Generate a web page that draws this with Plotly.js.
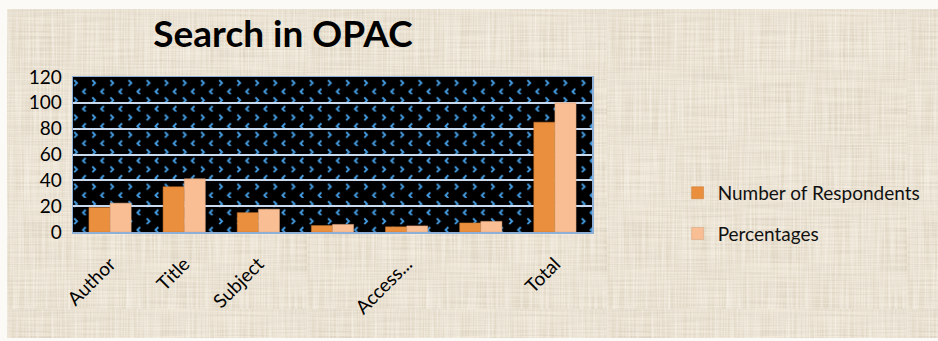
<!DOCTYPE html>
<html>
<head>
<meta charset="utf-8">
<script src="https://cdn.plot.ly/plotly-3.0.1.min.js"></script>
<style>
  html, body { margin: 0; padding: 0; background: #fbfaf6; }
  #frame {
    position: absolute; left: 7px; top: 9px; width: 931px; height: 329px;
    background-color: #ebe2d1;
    background-image: url("data:image/svg+xml;utf8,<svg xmlns='http://www.w3.org/2000/svg' width='300' height='300'><filter id='f'><feTurbulence type='fractalNoise' baseFrequency='0.015 0.6' numOctaves='2' seed='3'/><feColorMatrix values='0 0 0 0 0.55  0 0 0 0 0.48  0 0 0 0 0.38  0 0 0 0.8 -0.25'/></filter><filter id='g'><feTurbulence type='fractalNoise' baseFrequency='0.6 0.015' numOctaves='2' seed='7'/><feColorMatrix values='0 0 0 0 1  0 0 0 0 0.98  0 0 0 0 0.93  0 0 0 0.9 -0.25'/></filter><rect width='300' height='300' filter='url(%23f)'/><rect width='300' height='300' filter='url(%23g)'/></svg>");
  }
  #chart { position: absolute; left: -7px; top: -9px; width: 938px; height: 341px; }
</style>
</head>
<body>
<div id="frame"><div id="chart"></div></div>
<script>
// Search options used in the OPAC
const tickLabels = ["Author", "Title", "Subject", "", "Access...", "", "Total"];
const positions = [0, 1, 2, 3, 4, 5, 6];
const respondents = [19, 35, 15, 5, 4, 7, 85];
const percentages = [22.35, 41.18, 17.65, 5.88, 4.71, 8.24, 100];

// Black plot background with small blue chevrons
const chevrons =
  "<svg xmlns='http://www.w3.org/2000/svg' width='521' height='156' viewBox='0 0 521 156' preserveAspectRatio='none'>" +
  "<defs><pattern id='p' patternUnits='userSpaceOnUse' width='18.2' height='17.4' x='0' y='0'>" +
  "<polyline points='1.2,3.2 4,6 1.2,8.8' fill='none' stroke='%23449ce2' stroke-width='1.9'/>" +
  "<polyline points='12.8,11.9 10,14.7 12.8,17.5' fill='none' stroke='%23449ce2' stroke-width='1.9'/>" +
  "</pattern></defs>" +
  "<rect width='521' height='156' fill='%23000'/>" +
  "<rect width='521' height='156' fill='url(%23p)'/></svg>";

const font = "Lato, 'Open Sans', sans-serif";

const traces = [
  {
    type: "bar", name: "Number of Respondents", legendgroup: "a",
    x: positions, y: respondents,
    marker: { color: "#ea8f3d", line: { color: "#c9772f", width: 0.5 } }
  },
  {
    type: "bar", name: "Percentages", legendgroup: "b",
    x: positions, y: percentages,
    marker: { color: "#f9be94", line: { color: "#d9a07a", width: 0.5 } }
  }
];

const layout = {
  width: 938, height: 341,
  margin: { l: 73, r: 344, t: 77, b: 109, pad: 0 },
  paper_bgcolor: "rgba(0,0,0,0)",
  plot_bgcolor: "rgba(0,0,0,0)",
  barmode: "group",
  bargap: 0.43,
  bargroupgap: 0,
  font: { family: font, color: "#000" },
  title: {
    text: "<b>Search in OPAC</b>",
    font: { family: font, size: 37, color: "#000" },
    x: 283 / 938, xanchor: "center",
    y: 1 - 34 / 341, yanchor: "middle"
  },
  xaxis: {
    range: [-0.5, 6.5],
    tickmode: "array", tickvals: positions, ticktext: tickLabels,
    tickangle: -45, ticks: "",
    tickfont: { family: font, size: 19, color: "#000" },
    ticklabelstandoff: 12,
    showgrid: false, zeroline: false,
    showline: true, mirror: true, linecolor: "#8fb0d6", linewidth: 1.5
  },
  yaxis: {
    range: [0, 120], dtick: 20, ticks: "",
    tickfont: { family: font, size: 19, color: "#000" },
    showgrid: true, gridcolor: "#c9d9ee", gridwidth: 2,
    zeroline: false,
    showline: true, mirror: true, linecolor: "#8fb0d6", linewidth: 1.5,
    ticklabelstandoff: 6
  },
  legend: {
    x: 1.165, xanchor: "left", y: 0.12, yanchor: "middle",
    bgcolor: "rgba(0,0,0,0)",
    font: { family: font, size: 19, color: "#111" },
    traceorder: "grouped", tracegroupgap: 13, itemwidth: 30
  },
  images: [{
    source: "data:image/svg+xml;utf8," + chevrons,
    xref: "x domain", yref: "y domain",
    x: 0, y: 1, sizex: 1, sizey: 1,
    xanchor: "left", yanchor: "top",
    sizing: "stretch", layer: "below"
  }],
  showlegend: true
};

Plotly.newPlot("chart", traces, layout, { displayModeBar: false, staticPlot: true });
</script>
</body>
</html>
